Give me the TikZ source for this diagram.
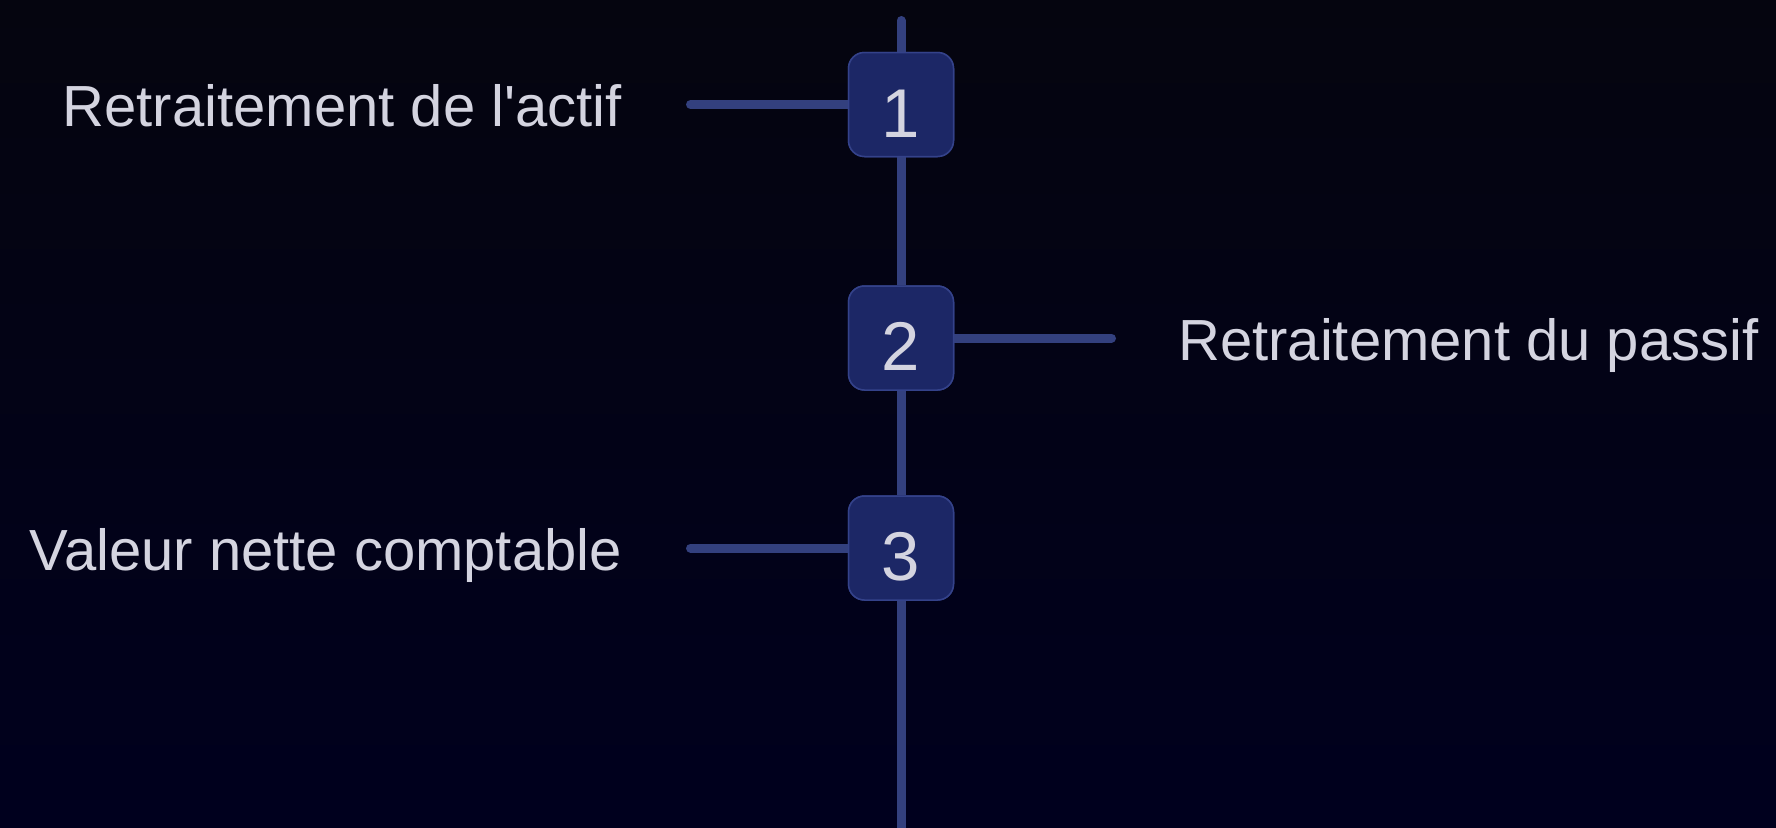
\documentclass[tikz,border=0pt]{standalone}
\usepackage{fontspec}
\setmainfont{Liberation Sans}[Ligatures=TeXOff]
\definecolor{bgtop}{HTML}{05050F}
\definecolor{bgbot}{HTML}{00001E}
\definecolor{linec}{HTML}{33407E}
\definecolor{boxfill}{HTML}{1C2766}
\definecolor{boxdraw}{HTML}{34428A}
\definecolor{txt}{HTML}{D4D4E0}
\tikzset{
  numbox/.style={draw=boxdraw, line width=1.5pt, fill=boxfill, rounded corners=16pt,
    minimum width=105pt, minimum height=104pt, inner sep=0pt, text=txt,
    font=\fontsize{68}{68}\selectfont},
  conn/.style={draw=linec, line width=9pt, line cap=round},
  vconn/.style={draw=linec, line width=9pt},
  num/.style={text=txt, inner sep=0pt, font=\fontsize{69}{69}\selectfont, anchor=base},
  lbl/.style={text=txt, inner sep=0pt, font=\fontsize{58}{58}\selectfont}
}
\begin{document}
\begin{tikzpicture}[x=1pt,y=-1pt]
\useasboundingbox (0,0) rectangle (1776,827);
\shade[top color=bgtop, bottom color=bgbot] (0,0) rectangle (1776,827);
\coordinate (vtop) at (901,20.5);
\coordinate (vbot) at (901,832);
\node[numbox] (b1) at (901,104.5) {};
\node[numbox] (b2) at (901,338) {};
\node[numbox] (b3) at (901,548) {};
\draw[conn] (vtop) -- (b1.north);
\draw[vconn] (b1.south) -- (b2.north);
\draw[vconn] (b2.south) -- (b3.north);
\draw[vconn] (b3.south) -- (vbot);
\coordinate (e1) at (690.5,104.5);
\coordinate (e2) at (1111.5,338);
\coordinate (e3) at (690.5,548);
\draw[conn] (e1) -- (b1.west);
\draw[conn] (e2) -- (b2.east);
\draw[conn] (e3) -- (b3.west);
\node[numbox] at (b1) {};
\node[numbox] at (b2) {};
\node[numbox] at (b3) {};
\node[num] (n1) at (901,137) {1};
\node[num] (n2) at (901,370.5) {2};
\node[num] (n3) at (901,580.5) {3};
\node[lbl, anchor=base east] (t1) at (622,126.5) {Retraitement de l'actif};
\node[lbl, anchor=base west] (t2) at (1178,360) {Retraitement du passif};
\node[lbl, anchor=base east] (t3) at (622,570) {Valeur nette comptable};
\end{tikzpicture}
\end{document}
